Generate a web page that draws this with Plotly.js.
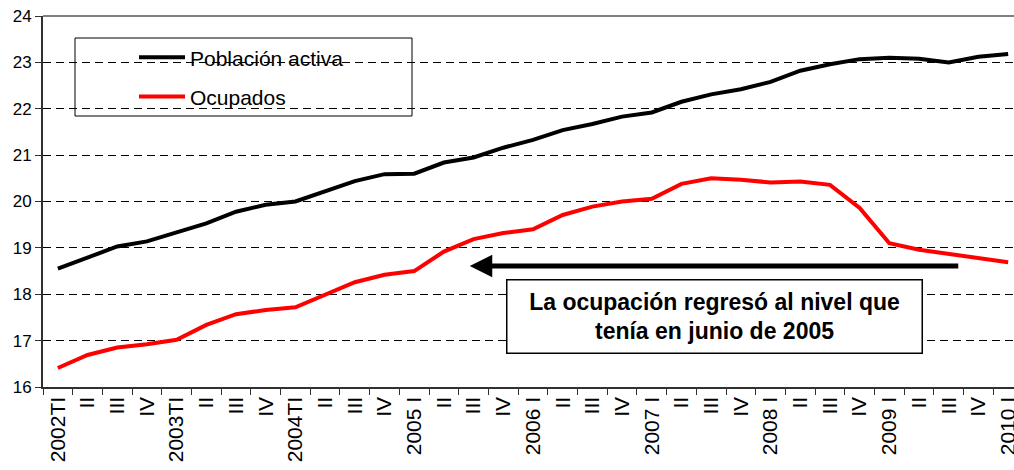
<!DOCTYPE html>
<html>
<head>
<meta charset="utf-8">
<script src="https://cdn.plot.ly/plotly-3.0.1.min.js"></script>
<style>html,body{margin:0;padding:0;background:#fff;overflow:hidden;width:1014px;height:470px}#chart{width:1030px;height:470px}</style>
</head>
<body>
<div id="chart"></div>
<script>
const quarterLabels = ["2002TI","II","III","IV","2003TI","II","III","IV","2004TI","II","III","IV",
  "2005 I","II","III","IV","2006 I","II","III","IV","2007 I","II","III","IV",
  "2008 I","II","III","IV","2009 I","II","III","IV","2010 I"];
const poblacionActiva = [18.55,18.78,19.03,19.14,19.33,19.53,19.78,19.93,20.00,20.21,20.44,20.59,
  20.60,20.84,20.95,21.16,21.33,21.54,21.67,21.83,21.92,22.15,22.31,22.42,
  22.58,22.82,22.96,23.07,23.10,23.08,23.00,23.12,23.18];
const ocupados = [16.41,16.69,16.85,16.92,17.02,17.34,17.57,17.66,17.72,17.99,18.26,18.42,
  18.50,18.92,19.19,19.32,19.40,19.71,19.89,20.00,20.06,20.38,20.50,20.47,
  20.41,20.43,20.36,19.86,19.10,18.96,18.87,18.78,18.69];
const yTicks = [16,17,18,19,20,21,22,23,24];
const seriesNames = ["Población activa","Ocupados"];
const noteText = "La ocupación regresó al nivel que<br>tenía en junio de 2005";

const xIdx = quarterLabels.map((_, i) => i);
const FONT = "Liberation Sans, Arial, sans-serif";
const PW = 980; // plot width in px (43 -> 1023)

const traces = [
  {x: xIdx, y: poblacionActiva, name: seriesNames[0], type: "scatter", mode: "lines",
   line: {color: "#000000", width: 4}, legendgroup: "a"},
  {x: xIdx, y: ocupados, name: seriesNames[1], type: "scatter", mode: "lines",
   line: {color: "#ff0000", width: 4}, legendgroup: "b"}
];

const layout = {
  width: 1030, height: 470,
  margin: {l: 43, r: 7, t: 16, b: 83},
  paper_bgcolor: "#ffffff", plot_bgcolor: "#ffffff",
  font: {family: FONT, color: "#000000"},
  showlegend: true,
  legend: {x: (134-43)/PW, y: 0.943, xanchor: "left", yanchor: "top",
    bgcolor: "rgba(0,0,0,0)", borderwidth: 0, tracegroupgap: 9, itemwidth: 46,
    font: {size: 21, family: FONT, color: "#000"}},
  xaxis: {
    range: [-0.5, 32.5], tickmode: "array", tickvals: xIdx, ticktext: quarterLabels,
    tickangle: -90, ticks: "", showgrid: false, zeroline: false,
    showline: true, linecolor: "#303030", linewidth: 1.5,
    tickfont: {size: 21, family: FONT, color: "#000"},
    minor: {tick0: -0.5, dtick: 1, ticks: "outside", ticklen: 6, tickcolor: "#303030", tickwidth: 1, showgrid: false},
    fixedrange: true
  },
  yaxis: {
    range: [16, 24], tickmode: "array", tickvals: yTicks,
    ticks: "outside", ticklen: 6, tickcolor: "#303030",
    showline: true, linecolor: "#303030", linewidth: 2,
    showgrid: true, gridcolor: "#000000", gridwidth: 1, griddash: "8px,5px",
    zeroline: false, tickfont: {size: 17, family: FONT, color: "#000"},
    fixedrange: true
  },
  shapes: [
    {type: "line", xref: "paper", yref: "paper", x0: 0, x1: 1, y0: 1, y1: 1,
     line: {color: "#808080", width: 2}, layer: "above"},
    {type: "rect", xref: "paper", yref: "paper",
     x0: (75-43)/PW, x1: (412-43)/PW, y0: 1-(116-16)/371, y1: 1-(38-16)/371,
     line: {color: "#000", width: 1}, fillcolor: "#ffffff", layer: "between"}
  ],
  annotations: [
    {x: 13.87, y: 18.61, ax: 30.37, ay: 18.61, xref: "x", yref: "y", axref: "x", ayref: "y",
     text: "", showarrow: true, arrowhead: 2, arrowwidth: 5, arrowsize: 0.9, arrowcolor: "#000"},
    {x: 22.12, y: 17.53, xref: "x", yref: "y", text: noteText, showarrow: false,
     font: {size: 23, family: FONT, color: "#000", weight: "bold"},
     bgcolor: "#ffffff", bordercolor: "#000", borderwidth: 1.5, borderpad: 1,
     width: 412, height: 70, align: "center", valign: "middle"}
  ]
};

Plotly.newPlot("chart", traces, layout, {displayModeBar: false, staticPlot: true});
</script>
</body>
</html>
